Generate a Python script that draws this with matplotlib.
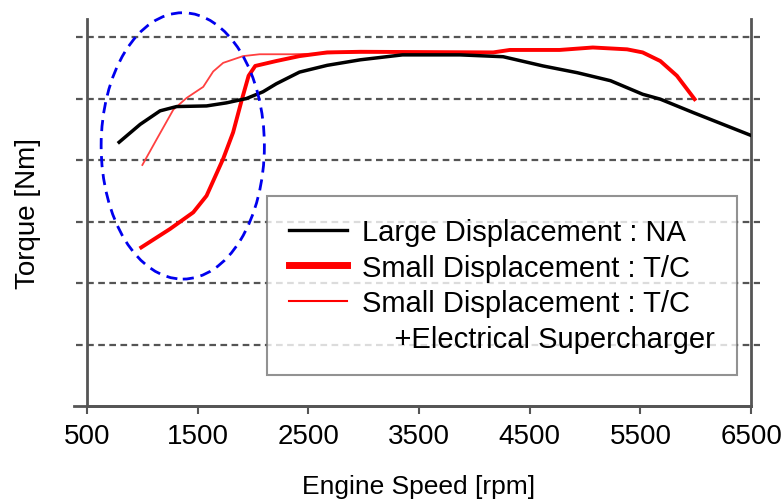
import matplotlib.pyplot as plt
from matplotlib.patches import Ellipse
from matplotlib.lines import Line2D

plt.rcParams['font.family'] = ['Liberation Sans', 'DejaVu Sans']

# Large displacement NA engine
na_rpm = [790, 980, 1160, 1310, 1580, 1760, 1940, 2090, 2210, 2420, 2670, 2970,
          3350, 3870, 4260, 4620, 4930, 5230, 5520, 5680, 5980, 6500]
na_torque = [4.29, 4.58, 4.80, 4.87, 4.88, 4.93, 5.00, 5.11, 5.24, 5.43, 5.54, 5.63,
             5.71, 5.71, 5.68, 5.53, 5.42, 5.29, 5.07, 4.99, 4.77, 4.40]

# Small displacement with turbocharger
tc_rpm = [990, 1250, 1460, 1580, 1730, 1820, 1900, 1960, 2020, 2210, 2420, 2670,
          2970, 4170, 4320, 4770, 5070, 5380, 5520, 5680, 5830, 5990]
tc_torque = [2.58, 2.88, 3.15, 3.42, 4.02, 4.45, 4.99, 5.37, 5.53, 5.61, 5.69, 5.75,
             5.76, 5.75, 5.79, 5.79, 5.83, 5.80, 5.75, 5.61, 5.37, 4.99]

# Small displacement with turbocharger + electrical supercharger
es_rpm = [1000, 1130, 1280, 1400, 1550, 1640, 1730, 1910, 2060, 2360, 2970, 3500]
es_torque = [3.92, 4.34, 4.82, 5.01, 5.19, 5.44, 5.58, 5.69, 5.72, 5.72, 5.75, 5.76]

xticks = [500, 1500, 2500, 3500, 4500, 5500, 6500]
grid_levels = [1, 2, 3, 4, 5, 6]

fig = plt.figure(figsize=(7.84, 5.02), dpi=100)
ax = fig.add_axes([0.111, 0.189, 0.847, 0.772])

# dashed reference levels, a bit wider than the plot box
for g in grid_levels:
    ax.axhline(g, xmin=-0.017, xmax=1.013, color='#555555', lw=1.6,
               ls=(0, (3, 2)), clip_on=False, zorder=1)

ax.plot(es_rpm, es_torque, color='#ff4040', lw=1.3, zorder=3)
ax.plot(tc_rpm, tc_torque, color='#ff0000', lw=2.8, zorder=4)
ax.plot(na_rpm, na_torque, color='black', lw=2.5, zorder=5)

# low speed region marker
ell = Ellipse((1365, 4.23), 1475, 4.33, fill=False, edgecolor='#0000ee',
              lw=2.0, ls=(0, (4, 2.5)), clip_on=False, zorder=6)
ax.add_patch(ell)

ax.set_xlim(500, 6500)
ax.set_ylim(0, 6.3)
ax.set_xticks(xticks)
ax.set_yticks([])
ax.tick_params(axis='x', labelsize=20, length=6, width=1.5, color='#555555', pad=6)
for s in ['left', 'right', 'bottom']:
    ax.spines[s].set_color('#555555')
    ax.spines[s].set_linewidth(2)
ax.spines['top'].set_visible(False)
ax.axhline(0, xmin=-0.02, xmax=1.0, color='#555555', lw=2, clip_on=False)

ax.set_xlabel('Engine Speed [rpm]', fontsize=19, labelpad=18)
ax.set_ylabel('Torque [Nm]', fontsize=20, labelpad=33)

handles = [Line2D([], [], color='black', lw=2.4),
           Line2D([], [], color='#ff0000', lw=5),
           Line2D([], [], color='#ff0000', lw=1.5),
           Line2D([], [], color='none')]
labels = ['Large Displacement : NA', 'Small Displacement : T/C',
          'Small Displacement : T/C', '    +Electrical Supercharger']
leg = ax.legend(handles, labels, loc='upper left', bbox_to_anchor=(0.271, 0.542),
                borderaxespad=0, fontsize=21, frameon=True, fancybox=False,
                edgecolor='#777777', handlelength=2.0, handletextpad=0.5,
                labelspacing=0.26, borderpad=0.75)
leg.get_frame().set_linewidth(1.5)
leg.set_zorder(7)

fig.savefig('out.png', dpi=100)
